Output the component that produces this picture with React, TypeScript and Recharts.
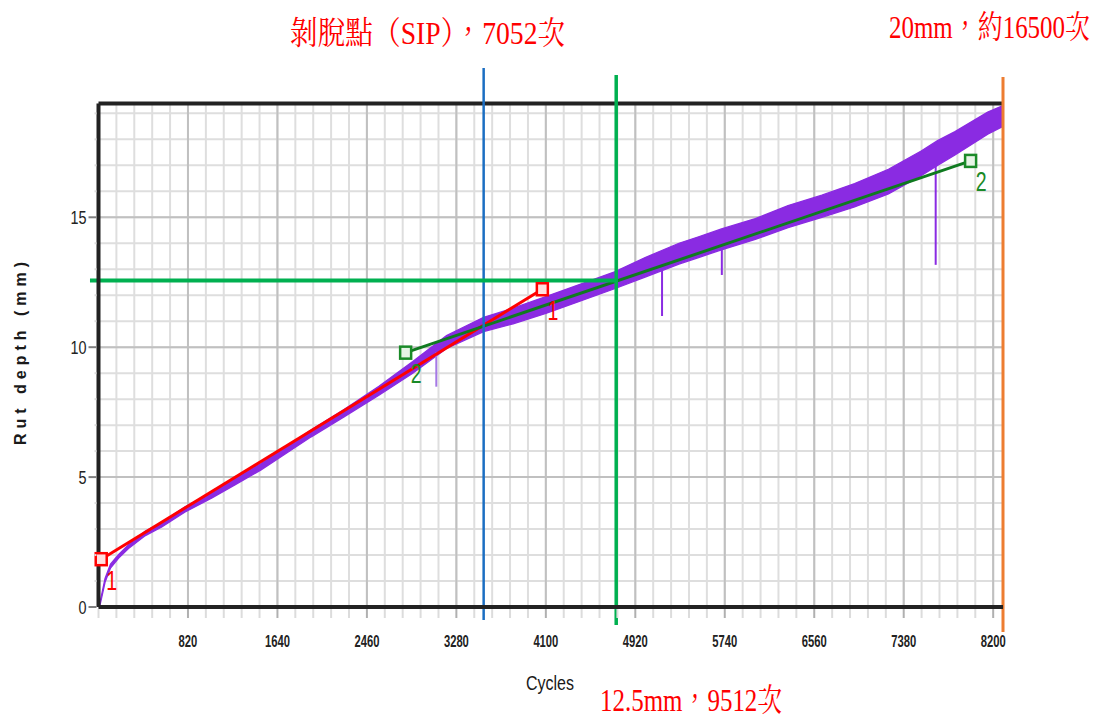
import React from 'react';
import { ComposedChart, Area, Line, XAxis, YAxis, CartesianGrid, ReferenceLine } from 'recharts';

// rut depth band (mm), low / high edge at each cycle count
const cycles = [0, 15, 60, 110, 185, 275, 430, 580, 790, 1040, 1250, 1490, 1680, 1950, 2250, 2570, 2880, 3190, 3530, 3800, 4100, 4400, 4730, 5010, 5320, 5500, 5710, 6020, 6320, 6630, 6930, 7240, 7540, 7690, 7850, 8150, 8290];
const rutLow = [0, 0.1, 0.95, 1.5, 1.88, 2.25, 2.75, 3.08, 3.65, 4.2, 4.7, 5.28, 5.8, 6.55, 7.32, 8.15, 9.0, 9.95, 10.6, 10.9, 11.3, 11.75, 12.25, 12.7, 13.2, 13.45, 13.75, 14.15, 14.6, 15.0, 15.4, 15.9, 16.6, 17.0, 17.4, 18.2, 18.5];
const rutHigh = [0, 0.2, 1.1, 1.65, 2.02, 2.4, 2.92, 3.25, 3.85, 4.42, 4.95, 5.52, 6.05, 6.82, 7.6, 8.5, 9.45, 10.45, 11.15, 11.5, 11.95, 12.4, 12.9, 13.45, 14.0, 14.25, 14.55, 14.95, 15.45, 15.85, 16.3, 16.85, 17.55, 17.95, 18.3, 19.05, 19.3];

// downward spikes in the trace
const spikeCycles = [3096, 5165, 5713, 7673];
const spikeTop = [9.8, 13.0, 14.0, 17.2];
const spikeBottom = [8.48, 11.2, 12.78, 13.17];

// fitted segments 1 and 2
const fit1 = [{ x: 25, y: 1.84 }, { x: 4068, y: 12.23 }];
const fit2 = [{ x: 2815, y: 9.79 }, { x: 7993, y: 17.17 }];

const X_MAX = 8290;
const Y_MAX = 19.38;
const SIP_CYCLES = 3530;
const RUT125_CYCLES = 4745;
const RUT125_DEPTH = 12.57;
const END_CYCLES = 8290;

const xMinor = Array.from({ length: 51 }, (_, i) => i * 164);
const xMajor = [820, 1640, 2460, 3280, 4100, 4920, 5740, 6560, 7380, 8200];
const yMinor = Array.from({ length: 20 }, (_, i) => i);
const yMajor = [0, 5, 10, 15];

const bandData = cycles.map((c, i) => ({ x: c, band: [rutLow[i], rutHigh[i]] }));

const XTick = (props: any) => {
  const { x, y, payload } = props;
  const v = payload.value;
  const major = v % 820 === 0 && v > 0;
  return (
    <g>
      <line x1={x} x2={x} y1={y + 2} y2={y + 11} stroke={major ? '#b0b0b0' : '#dcdcdc'} strokeWidth={2} />
      {major && (
        <text transform={`translate(${x},${y + 40}) scale(0.66,1)`} textAnchor="middle" fontSize={17} fontWeight="bold" fontFamily="Liberation Sans, Arial, sans-serif" fill="#222">
          {v}
        </text>
      )}
    </g>
  );
};

const YTick = (props: any) => {
  const { x, y, payload } = props;
  const v = payload.value;
  const major = v % 5 === 0;
  return (
    <g>
      <line x1={x - 2} x2={x - (major ? 10 : 4)} y1={y} y2={y} stroke={major ? '#808080' : '#dcdcdc'} strokeWidth={2} />
      {major && (
        <text transform={`translate(${x - 12},${y + 7}) scale(0.8,1)`} textAnchor="end" fontSize={18} fontFamily="Liberation Sans, Arial, sans-serif" fill="#222">
          {v}
        </text>
      )}
    </g>
  );
};

const marker = (color: string, fill: string, label: string) => (props: any) => {
  const { cx, cy, index } = props;
  return (
    <g key={`m-${label}-${index}`}>
      <rect x={cx - 5.5} y={cy - 6} width={11} height={12} fill={fill} stroke={color} strokeWidth={2.5} />
      <text transform={`translate(${cx + 10.5},${cy + 30.5}) scale(0.7,1)`} textAnchor="middle" fontSize={28} fontFamily="Liberation Sans, Arial, sans-serif" fill={color}>
        {label}
      </text>
    </g>
  );
};

const redFont = '"Liberation Serif", "Times New Roman", "Noto Serif CJK TC", "Noto Sans CJK TC", serif';

export default function App() {
  return (
    <div style={{ position: 'absolute', left: 0, top: 0, width: 1100, height: 719, background: '#fff' }}>
      <ComposedChart width={1100} height={719} data={bandData} margin={{ top: 103.5, right: 97, bottom: 82, left: 38.5 }}>
        <CartesianGrid stroke="#dedede" strokeWidth={2} verticalValues={xMinor} horizontalValues={yMinor} />
        <CartesianGrid stroke="#c0c0c0" strokeWidth={2} verticalValues={xMajor} horizontalValues={yMajor} />
        <XAxis
          dataKey="x"
          type="number"
          domain={[0, X_MAX]}
          ticks={xMinor}
          interval={0}
          height={30}
          tickSize={0}
          tickMargin={0}
          tickLine={false}
          tick={<XTick />}
          axisLine={{ stroke: '#222', strokeWidth: 4 }}
        />
        <YAxis
          type="number"
          domain={[0, Y_MAX]}
          ticks={yMinor}
          interval={0}
          width={60}
          tickSize={0}
          tickMargin={0}
          tickLine={false}
          tick={<YTick />}
          axisLine={{ stroke: '#222', strokeWidth: 4 }}
        />
        <Area type="linear" dataKey="band" stroke="#8a2be2" strokeWidth={1.3} fill="#8a2be2" fillOpacity={1} dot={false} activeDot={false} isAnimationActive={false} />
        {spikeCycles.map((c, i) => (
          <ReferenceLine
            key={`s${i}`}
            segment={[{ x: c, y: spikeTop[i] }, { x: c, y: spikeBottom[i] }]}
            stroke={i === 0 ? '#a679e6' : '#8a2be2'}
            strokeWidth={2}
            ifOverflow="visible"
          />
        ))}
        <Line data={fit1} dataKey="y" type="linear" stroke="#ff0000" strokeWidth={3} dot={marker('#ff0000', '#ffe0e0', '1')} activeDot={false} isAnimationActive={false} />
        <Line data={fit2} dataKey="y" type="linear" stroke="#0f7a1f" strokeWidth={3} dot={marker('#1a8a28', '#e6f4e6', '2')} activeDot={false} isAnimationActive={false} />
        <ReferenceLine y={Y_MAX} stroke="#222" strokeWidth={4} ifOverflow="visible" />
        <ReferenceLine segment={[{ x: SIP_CYCLES, y: -0.5 }, { x: SIP_CYCLES, y: 20.75 }]} stroke="#1b6ec2" strokeWidth={2.5} ifOverflow="visible" />
        <ReferenceLine segment={[{ x: RUT125_CYCLES, y: -0.69 }, { x: RUT125_CYCLES, y: 20.48 }]} stroke="#00b050" strokeWidth={3.5} ifOverflow="visible" />
        <ReferenceLine segment={[{ x: -78, y: RUT125_DEPTH }, { x: RUT125_CYCLES, y: RUT125_DEPTH }]} stroke="#00b050" strokeWidth={4} ifOverflow="visible" />
        <ReferenceLine segment={[{ x: END_CYCLES, y: -0.96 }, { x: END_CYCLES, y: 20.4 }]} stroke="#ed7d31" strokeWidth={3} ifOverflow="visible" />
      </ComposedChart>
      <svg width={1100} height={719} style={{ position: 'absolute', left: 0, top: 0, pointerEvents: 'none' }}>
        <text transform="translate(290,44) scale(0.865,1)" fontSize={32} fontFamily={redFont} fill="#ff0000">
          剝脫點（SIP），7052次
        </text>
        <text transform="translate(889,38) scale(0.78,1)" fontSize={32} fontFamily={redFont} fill="#ff0000">
          20mm，約16500次
        </text>
        <text transform="translate(600,711) scale(0.78,1)" fontSize={32} fontFamily={redFont} fill="#ff0000">
          12.5mm，9512次
        </text>
        <text x={526} y={690} fontSize={20} fontFamily="Liberation Sans, Arial, sans-serif" fill="#1a1a1a" textLength={48} lengthAdjust="spacingAndGlyphs">
          Cycles
        </text>
        <text
          transform="translate(26,445) rotate(-90)"
          x={0}
          y={0}
          fontSize={16}
          fontWeight="bold"
          fontFamily="Liberation Sans, Arial, sans-serif"
          fill="#1a1a1a"
          textLength={183}
          lengthAdjust="spacing"
        >
          Rut depth (mm)
        </text>
      </svg>
    </div>
  );
}
